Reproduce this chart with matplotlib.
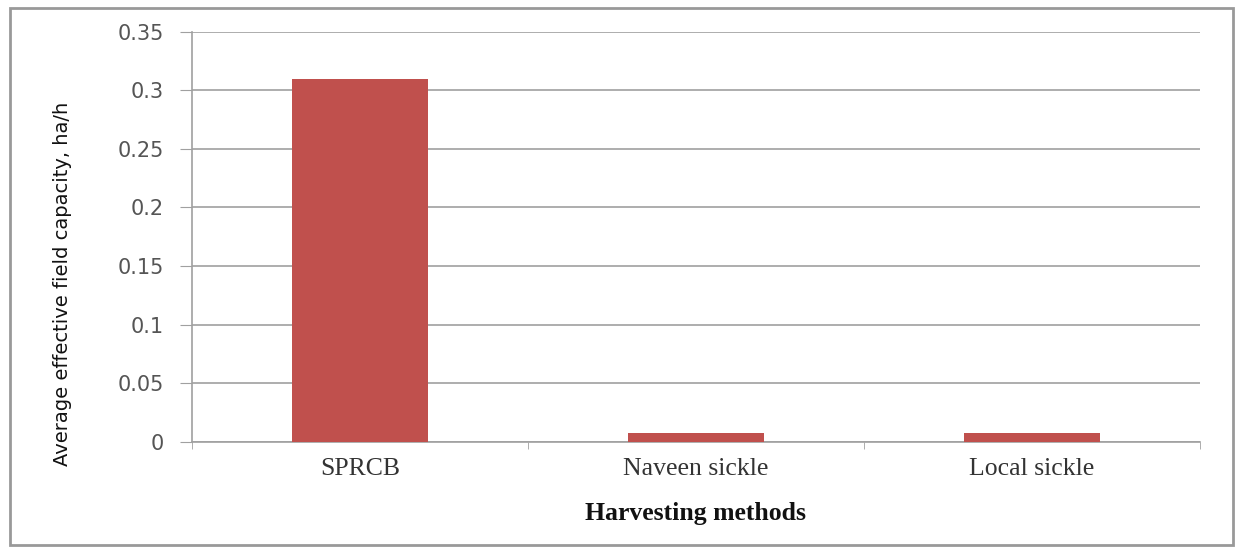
import matplotlib
matplotlib.use("Agg")
import matplotlib.pyplot as plt
from matplotlib.patches import Rectangle

methods = ["SPRCB", "Naveen sickle", "Local sickle"]
capacity = [0.31, 0.007, 0.007]
yticks = [0, 0.05, 0.1, 0.15, 0.2, 0.25, 0.3, 0.35]
ytick_labels = ["0", "0.05", "0.1", "0.15", "0.2", "0.25", "0.3", "0.35"]

fig = plt.figure(figsize=(12.38, 5.48), dpi=100)
ax = fig.add_axes([0.155, 0.194, 0.814, 0.748])

pos = list(range(len(methods)))
ax.bar(pos, capacity, width=0.405, color="#c0504d", zorder=3)

ax.set_xlim(-0.5, len(methods) - 0.5)
ax.set_ylim(0, 0.35)
ax.set_yticks(yticks)
ax.set_yticklabels(ytick_labels, fontsize=15, color="#555555", family="DejaVu Sans")
ax.set_xticks(pos)
ax.set_xticklabels(methods, fontsize=18.5, family="Liberation Serif", color="#333333")
ax.tick_params(axis="x", length=0, pad=12)
ax.tick_params(axis="y", length=9, color="#a0a0a0", pad=11)

# category boundary ticks on the x axis
ax.set_xticks([-0.5, 0.5, 1.5, 2.5], minor=True)
ax.tick_params(axis="x", which="minor", length=5, color="#a0a0a0", direction="out")

ax.yaxis.grid(True, color="#a0a0a0", linewidth=1.2, zorder=0)
for s in ["top", "right"]:
    ax.spines[s].set_visible(False)
ax.spines["left"].set_color("#a0a0a0")
ax.spines["bottom"].set_color("#a0a0a0")
ax.spines["left"].set_linewidth(1.2)
ax.spines["bottom"].set_linewidth(1.2)

ax.set_xlabel("Harvesting methods", fontsize=18.5, fontweight="bold",
              family="Liberation Serif", color="#111111", va="center")
ax.xaxis.set_label_coords(0.5, -0.174)
ax.set_ylabel("Average effective field capacity, ha/h", fontsize=14,
              family=["Liberation Sans Narrow", "DejaVu Sans"], color="#111111",
              va="center")
ax.yaxis.set_label_coords(-0.128, 0.385)

# outer border
fig.patches.append(Rectangle((0.008, 0.005), 0.988, 0.98, transform=fig.transFigure,
                             fill=False, edgecolor="#999999", linewidth=2))

fig.savefig("out.png", dpi=100)
